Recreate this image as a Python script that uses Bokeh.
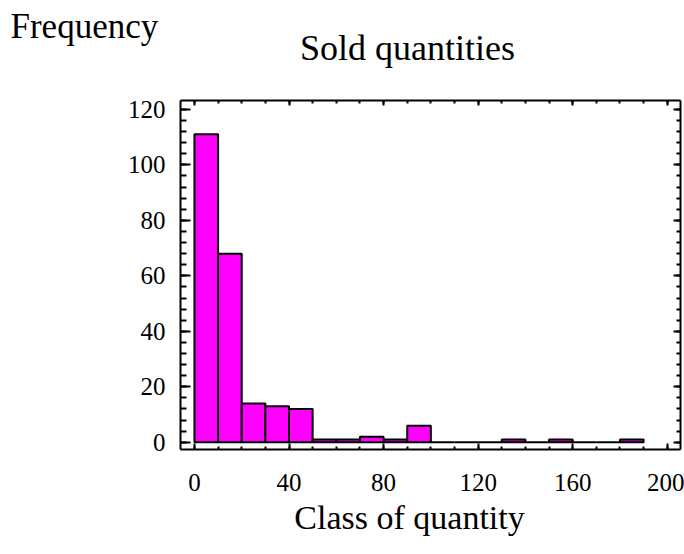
from bokeh.plotting import figure
from bokeh.models import Range1d, FixedTicker, LinearAxis, Label, ColumnDataSource
from bokeh.layouts import column
from bokeh.embed import file_html
from bokeh.resources import INLINE

# ---- data ----
class_lower = [0, 10, 20, 30, 40, 50, 60, 70, 80, 90, 100, 110, 120, 130, 140, 150, 160, 170, 180]
class_upper = [10, 20, 30, 40, 50, 60, 70, 80, 90, 100, 110, 120, 130, 140, 150, 160, 170, 180, 190]
frequency = [111, 68, 14, 13, 12, 1, 1, 2, 1, 6, 0, 0, 0, 1, 0, 1, 0, 0, 1]

x_major = [0, 40, 80, 120, 160, 200]
x_minor = list(range(0, 210, 10))
y_major = [0, 20, 40, 60, 80, 100, 120]
y_minor = list(range(0, 124, 4))

title_text = "Sold quantities"
x_title = "Class of quantity"
y_title = "Frequency"

FONT = "Liberation Serif"
W = 684


def text_strip(height):
    f = figure(width=W, height=height, output_backend="svg", toolbar_location=None,
               x_range=Range1d(0, W), y_range=Range1d(height, 0),
               x_axis_location=None, y_axis_location=None,
               min_border=0, min_border_left=0, min_border_right=0,
               min_border_top=0, min_border_bottom=0, frame_align=False)
    f.grid.visible = False
    f.outline_line_color = None
    f.background_fill_color = "white"
    f.border_fill_color = "white"
    return f


# ---- top strip: y-title and chart title ----
top_strip = text_strip(70)
top_strip.add_layout(Label(x=10, y=26, text=y_title, text_font=FONT, text_font_size="35px",
                           text_color="black", text_align="left", text_baseline="alphabetic"))
top_strip.add_layout(Label(x=407, y=47, text=title_text, text_font=FONT, text_font_size="36px",
                           text_color="black", text_align="center", text_baseline="alphabetic"))

# ---- main histogram ----
p = figure(width=W, height=430, output_backend="svg", toolbar_location=None,
           x_range=Range1d(-5.9, 205.6), y_range=Range1d(-2.6, 123.2),
           x_axis_location=None, y_axis_location=None, frame_align=False,
           min_border_left=180, min_border_right=4, min_border_top=30, min_border_bottom=51)
p.grid.visible = False
p.outline_line_color = None
p.background_fill_color = "white"
p.border_fill_color = "white"

src = ColumnDataSource(dict(left=class_lower, right=class_upper,
                            top=frequency, bottom=[0] * len(frequency)))
p.quad(left="left", right="right", top="top", bottom="bottom", source=src,
       fill_color="#FF00FF", line_color="black", line_width=2)

xt = FixedTicker(ticks=x_major, minor_ticks=x_minor)
yt = FixedTicker(ticks=y_major, minor_ticks=y_minor)


def style(ax, major_in, minor_in, labels=True):
    ax.axis_line_width = 2
    ax.axis_line_color = "black"
    ax.major_tick_in = major_in
    ax.major_tick_out = 0
    ax.minor_tick_in = minor_in
    ax.minor_tick_out = 0
    ax.major_tick_line_width = 2
    ax.minor_tick_line_width = 2
    ax.major_tick_line_color = "black"
    ax.minor_tick_line_color = "black"
    if labels:
        ax.major_label_text_font = FONT
        ax.major_label_text_font_size = "25px"
        ax.major_label_text_color = "black"
    else:
        ax.major_label_text_font_size = "0px"
        ax.major_label_standoff = 0
        ax.major_label_text_color = None


bottom = LinearAxis(ticker=xt)
style(bottom, 6, 3)
bottom.major_label_standoff = 24
p.add_layout(bottom, "below")

left = LinearAxis(ticker=yt)
style(left, 10, 6)
left.major_label_standoff = 15
p.add_layout(left, "left")

top = LinearAxis(ticker=xt)
style(top, 5, 3, labels=False)
p.add_layout(top, "above")

right = LinearAxis(ticker=yt)
style(right, 7, 4, labels=False)
p.add_layout(right, "right")

# ---- bottom strip: x-title ----
bottom_strip = text_strip(50)
bottom_strip.add_layout(Label(x=409, y=17, text=x_title, text_font=FONT, text_font_size="34px",
                              text_color="black", text_align="center", text_baseline="alphabetic"))

layout = column(top_strip, p, bottom_strip, spacing=0)
open("out.html", "w").write(file_html(layout, INLINE))
